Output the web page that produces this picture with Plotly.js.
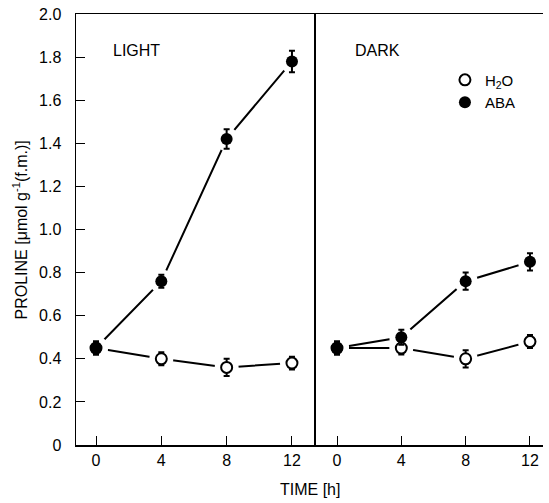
<!DOCTYPE html>
<html>
<head>
<meta charset="utf-8">
<script src="https://cdn.plot.ly/plotly-3.0.1.min.js"></script>
<style>html,body{margin:0;padding:0;background:#fff;}#chart{width:549px;height:503px;}</style>
</head>
<body>
<div id="chart"></div>
<script>
// ---- data ----
const time = [0, 4, 8, 12];
const lightH2O = [0.45, 0.40, 0.36, 0.38];
const lightH2OErr = [0.03, 0.03, 0.04, 0.03];
const lightABA = [0.45, 0.76, 1.42, 1.78];
const lightABAErr = [0.03, 0.03, 0.045, 0.05];
const darkH2O = [0.45, 0.45, 0.40, 0.48];
const darkH2OErr = [0.03, 0.03, 0.04, 0.03];
const darkABA = [0.45, 0.50, 0.76, 0.85];
const darkABAErr = [0.03, 0.035, 0.04, 0.04];
const yTickVals = [0, 0.2, 0.4, 0.6, 0.8, 1.0, 1.2, 1.4, 1.6, 1.8, 2.0];
const yTickText = ['0', '0.2', '0.4', '0.6', '0.8', '1.0', '1.2', '1.4', '1.6', '1.8', '2.0'];
const xTickVals = [0, 4, 8, 12];
const xTickText = ['0', '4', '8', '12'];

const FONT = 'Liberation Sans, Arial, Helvetica, sans-serif';
const traces = [];

function addPanel(xa, ya, h2o, h2oErr, aba, abaErr, legend) {
  // connecting lines
  [h2o, aba].forEach(v => traces.push({
    x: time, y: v, xaxis: xa, yaxis: ya, mode: 'lines', showlegend: false, hoverinfo: 'skip',
    line: {color: '#000', width: 2}
  }));
  // white gaps around points
  [h2o, aba].forEach(v => traces.push({
    x: time, y: v, xaxis: xa, yaxis: ya, mode: 'markers', showlegend: false, hoverinfo: 'skip',
    marker: {size: 24, color: '#fff', line: {width: 0}}
  }));
  traces.push({
    x: time, y: h2o, xaxis: xa, yaxis: ya, mode: 'markers', name: 'H<sub>2</sub>O', showlegend: legend,
    marker: {symbol: 'circle', size: 11, color: '#fff', line: {color: '#000', width: 2}},
    error_y: {type: 'data', array: h2oErr, visible: true, color: '#000', thickness: 2, width: 3}
  });
  traces.push({
    x: time, y: aba, xaxis: xa, yaxis: ya, mode: 'markers', name: 'ABA', showlegend: legend,
    marker: {symbol: 'circle', size: 12, color: '#000', line: {color: '#000', width: 0}},
    error_y: {type: 'data', array: abaErr, visible: true, color: '#000', thickness: 2, width: 3}
  });
}
addPanel('x', 'y', lightH2O, lightH2OErr, lightABA, lightABAErr, false);
addPanel('x2', 'y2', darkH2O, darkH2OErr, darkABA, darkABAErr, true);

const split = 238 / 467;
const xCommon = {
  tickvals: xTickVals, ticktext: xTickText, ticks: 'inside', ticklen: 9, tickwidth: 1, tickcolor: '#000',
  showline: true, linecolor: '#000', linewidth: 1.5, mirror: true, showgrid: false, zeroline: false,
  tickfont: {family: FONT, size: 16, color: '#000'}, ticklabelstandoff: 0, fixedrange: true
};
const layout = {
  width: 549, height: 503,
  margin: {l: 76, r: 6, t: 14, b: 58},
  paper_bgcolor: '#fff', plot_bgcolor: '#fff',
  font: {family: FONT, color: '#000'},
  showlegend: true,
  legend: {x: 0.79, y: 0.885, xanchor: 'left', yanchor: 'top', bgcolor: 'rgba(0,0,0,0)',
           font: {family: FONT, size: 15, color: '#000'}, tracegroupgap: 0, itemwidth: 30},
  xaxis: Object.assign({}, xCommon, {domain: [0, split], range: [-1.225, 13.35], anchor: 'y'}),
  xaxis2: Object.assign({}, xCommon, {domain: [split, 1], range: [-1.43, 12.81], anchor: 'y2'}),
  yaxis: {
    range: [0, 2.0], tickvals: yTickVals, ticktext: yTickText, ticks: 'inside', ticklen: 9, tickwidth: 1,
    tickcolor: '#000', showline: true, linecolor: '#000', linewidth: 1.5, mirror: true,
    showgrid: false, zeroline: false, anchor: 'x', ticklabelstandoff: 10,
    tickfont: {family: FONT, size: 16, color: '#000'}, fixedrange: true
  },
  yaxis2: {range: [0, 2.0], matches: 'y', anchor: 'x2', showline: false, ticks: '', showticklabels: false,
           showgrid: false, zeroline: false, fixedrange: true},
  annotations: [
    {text: 'LIGHT', xref: 'x', yref: 'y', x: 0.9, y: 1.83, xanchor: 'left', yanchor: 'middle', showarrow: false,
     font: {family: FONT, size: 16, color: '#000'}},
    {text: 'DARK', xref: 'x2', yref: 'y', x: 1.0, y: 1.83, xanchor: 'left', yanchor: 'middle', showarrow: false,
     font: {family: FONT, size: 16, color: '#000'}},
    {text: 'TIME [h]', xref: 'paper', yref: 'paper', x: 0.5, y: -0.104, xanchor: 'center', yanchor: 'middle',
     showarrow: false, font: {family: FONT, size: 16, color: '#000'}},
    {text: 'PROLINE [μmol g<sup>-1</sup>(f.m.)]', xref: 'paper', yref: 'paper', x: -0.12, y: 0.5,
     xanchor: 'center', yanchor: 'middle', textangle: -90, showarrow: false,
     font: {family: FONT, size: 16, color: '#000'}}
  ]
};
Plotly.newPlot('chart', traces, layout, {displayModeBar: false, staticPlot: true});
</script>
</body>
</html>
